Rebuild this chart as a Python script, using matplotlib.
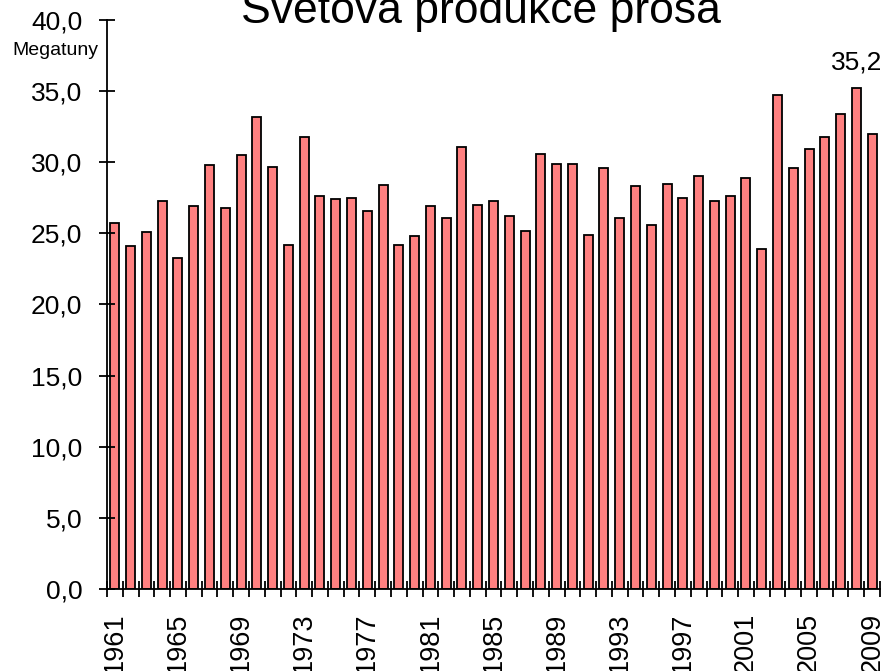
import matplotlib
matplotlib.use('Agg')
import matplotlib.pyplot as plt
from matplotlib.ticker import FuncFormatter, FixedLocator
import numpy as np

plt.rcParams['font.family'] = ['Liberation Sans', 'DejaVu Sans']

# Data (megatonnes of millet)
years = list(range(1961, 2010))
production = [25.7, 24.1, 25.1, 27.3, 23.3, 26.9, 29.8, 26.8, 30.5, 33.2,
              29.7, 24.2, 31.8, 27.6, 27.4, 27.5, 26.6, 28.4, 24.2, 24.8,
              26.9, 26.1, 31.1, 27.0, 27.3, 26.2, 25.2, 30.6, 29.9, 29.9,
              24.9, 29.6, 26.1, 28.3, 25.6, 28.5, 27.5, 29.0, 27.3, 27.6,
              28.9, 23.9, 34.7, 29.6, 30.9, 31.8, 33.4, 35.2, 32.0]
label_years = years[::4]
yticks = [0, 5, 10, 15, 20, 25, 30, 35, 40]

BAR_FC = '#FF8080'

fig = plt.figure(figsize=(8.85, 6.71), dpi=100)
ax = fig.add_axes([0.1209, 0.1222, 0.8735, 0.848])

x = np.arange(len(years))
ax.bar(x, production, width=0.57, color=BAR_FC, edgecolor='black', linewidth=1.3)

ax.set_xlim(-0.5, len(years) - 0.5)
ax.set_ylim(0, 40)

for s in ['top', 'right']:
    ax.spines[s].set_visible(False)
for s in ['left', 'bottom']:
    ax.spines[s].set_linewidth(1.3)

# y axis
ax.set_yticks(yticks)
ax.yaxis.set_major_formatter(FuncFormatter(lambda v, p: f'{v:.1f}'.replace('.', ',')))
ax.tick_params(axis='y', direction='inout', length=11.5, width=1.3, labelsize=19, pad=12)

# x axis: ticks on category boundaries, labels every 4 years
ax.xaxis.set_minor_locator(FixedLocator(np.arange(-0.5, len(years), 1.0)))
ax.set_xticks([years.index(y) for y in label_years])
ax.set_xticklabels([str(y) for y in label_years], rotation=90, fontsize=19.5)
ax.tick_params(axis='x', which='major', length=0, pad=17)
ax.tick_params(axis='x', which='minor', direction='inout', length=11, width=1.3)

# annotation for maximum
imax = int(np.argmax(production))
ax.text(imax, production[imax] + 1.0, f'{production[imax]:.1f}'.replace('.', ','),
        ha='center', va='bottom', fontsize=19)

fig.text(0.063, 0.925, 'Megatuny', ha='center', va='center', fontsize=14)
fig.text(0.5435, 0.966, 'Světová produkce prosa', ha='center', va='baseline', fontsize=32)

plt.savefig('out.png', dpi=100, facecolor='white')
